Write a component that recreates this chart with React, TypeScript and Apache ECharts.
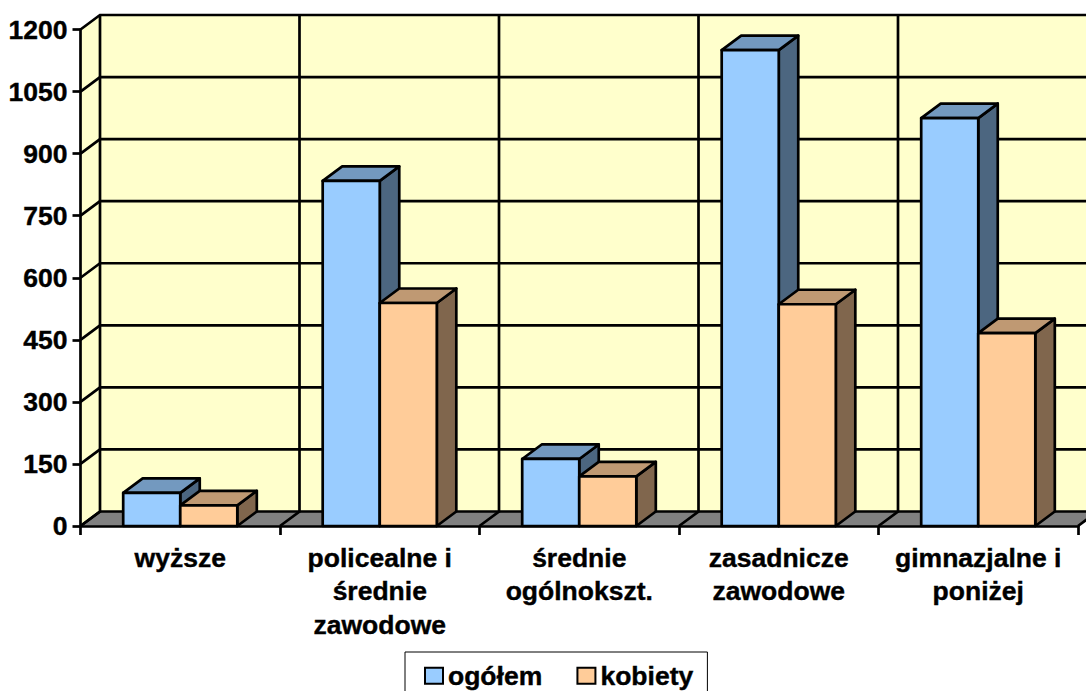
import React, { useEffect, useRef } from "react";
import * as echarts from "echarts";

const categories = ["wyższe", "policealne i\nśrednie\nzawodowe", "średnie\nogólnokszt.", "zasadnicze\nzawodowe", "gimnazjalne i\nponiżej"];
const ogolem = [80, 834, 162, 1150, 986];
const kobiety = [50, 539, 120, 536, 466];
const yTicks = [0, 150, 300, 450, 600, 750, 900, 1050, 1200];

const FONT = "'Liberation Sans', Arial, sans-serif";
const DX = 19.5;
const DY = -14.5;
const LINE = 2.7;
const BAR_RATIO = 0.286;

const lineStyle = { stroke: "#000", lineWidth: LINE, fill: "none" };

function polygon(points: number[][], fill: string, stroke = true) {
  return {
    type: "polygon",
    shape: { points },
    style: stroke ? { fill, stroke: "#000", lineWidth: LINE, lineJoin: "round" } : { fill, stroke: "none" },
  };
}

function polyline(points: number[][]) {
  return { type: "polyline", shape: { points }, style: lineStyle };
}

function renderWalls(_: any, api: any) {
  const base = api.coord([0, 0]);
  const top = api.coord([0, 1200]);
  const w = api.size([1, 0])[0];
  const x0 = base[0] - w / 2;
  const x1 = x0 + w * categories.length;
  const children: any[] = [
    polygon([[x0, base[1]], [x0 + DX, base[1] + DY], [x0 + DX, top[1] + DY], [x0, top[1]]], "#FFFFCC", false),
    polygon([[x0 + DX, base[1] + DY], [x1 + DX, base[1] + DY], [x1 + DX, top[1] + DY], [x0 + DX, top[1] + DY]], "#FFFFCC", false),
    polygon([[x0, base[1]], [x0 + DX, base[1] + DY], [x1 + DX, base[1] + DY], [x1, base[1]]], "#808080", false),
  ];
  for (let i = 0; i <= categories.length; i++) {
    const x = x0 + w * i;
    children.push(polyline([[x, base[1]], [x + DX, base[1] + DY], [x + DX, top[1] + DY]]));
  }
  return { type: "group", children };
}

function renderGrid(_: any, api: any) {
  const p = api.coord([0, api.value(1)]);
  const w = api.size([1, 0])[0];
  const x0 = p[0] - w / 2;
  const x1 = x0 + w * categories.length;
  return polyline([[x0, p[1]], [x0 + DX, p[1] + DY], [x1 + DX, p[1] + DY]]);
}

function bar3d(offset: number, face: string, topFace: string, side: string) {
  return (_: any, api: any) => {
    const t = api.coord([api.value(0), api.value(1)]);
    const b = api.coord([api.value(0), 0]);
    const bw = api.size([1, 0])[0] * BAR_RATIO;
    const x0 = t[0] + offset * bw;
    const x1 = x0 + bw;
    return {
      type: "group",
      children: [
        polygon([[x1, t[1]], [x1 + DX, t[1] + DY], [x1 + DX, b[1] + DY], [x1, b[1]]], side),
        polygon([[x0, t[1]], [x0 + DX, t[1] + DY], [x1 + DX, t[1] + DY], [x1, t[1]]], topFace),
        polygon([[x0, t[1]], [x1, t[1]], [x1, b[1]], [x0, b[1]]], face),
      ],
    };
  };
}

export default function App() {
  const ref = useRef<HTMLDivElement>(null);
  useEffect(() => {
    document.body.style.margin = "0";
    document.body.style.overflow = "hidden";
    const chart = echarts.init(ref.current!, null, { renderer: "svg" });
    const labelStyle = {
      color: "#000",
      fontFamily: FONT,
      fontWeight: "bold" as const,
      fontSize: 26.5,
      textBorderColor: "#000",
      textBorderWidth: 0.4,
    };
    const axisLine = { show: true, lineStyle: { color: "#000", width: LINE } };
    chart.setOption({
      animation: false,
      backgroundColor: "#fff",
      tooltip: { show: false },
      grid: { left: 80.5, top: 29.5, width: 997.5, height: 496.5 },
      legend: {
        data: [{ name: "ogółem", icon: "rect" }, { name: "kobiety", icon: "rect" }],
        left: 405,
        top: 652,
        orient: "horizontal",
        backgroundColor: "#fff",
        borderColor: "#000",
        borderWidth: 1,
        padding: [10, 14, 20, 19],
        itemGap: 34,
        itemWidth: 18,
        itemHeight: 16,
        selectedMode: false,
        textStyle: { ...labelStyle },
      },
      xAxis: {
        type: "category",
        data: categories,
        z: 10,
        axisLine,
        axisTick: { show: true, length: 9, lineStyle: { color: "#000", width: LINE } },
        axisLabel: { ...labelStyle, interval: 0, margin: 15, lineHeight: 33.5 },
        splitLine: { show: false },
      },
      yAxis: {
        type: "value",
        min: 0,
        max: 1200,
        interval: 150,
        z: 10,
        axisLine,
        axisTick: { show: true, length: 8, lineStyle: { color: "#000", width: LINE } },
        axisLabel: { ...labelStyle, margin: 13, formatter: (v: number) => String(v) },
        splitLine: { show: false },
      },
      series: [
        { type: "custom", silent: true, renderItem: renderWalls, data: [[0, 0]], encode: { x: 0, y: 1 } },
        { type: "custom", silent: true, renderItem: renderGrid, data: yTicks.map((v) => [0, v]), encode: { x: 0, y: 1 } },
        {
          type: "custom",
          name: "ogółem",
          silent: true,
          itemStyle: { color: "#99CCFF", borderColor: "#000", borderWidth: 3, borderJoin: "miter" },
          renderItem: bar3d(-1, "#99CCFF", "#7399BF", "#4C6680"),
          data: ogolem.map((v, i) => [i, v]),
          encode: { x: 0, y: 1 },
        },
        {
          type: "custom",
          name: "kobiety",
          silent: true,
          itemStyle: { color: "#FFCC99", borderColor: "#000", borderWidth: 3, borderJoin: "miter" },
          renderItem: bar3d(0, "#FFCC99", "#BF9973", "#80664D"),
          data: kobiety.map((v, i) => [i, v]),
          encode: { x: 0, y: 1 },
        },
      ],
    });
    return () => chart.dispose();
  }, []);
  return <div ref={ref} style={{ width: 1086, height: 691 }} />;
}
